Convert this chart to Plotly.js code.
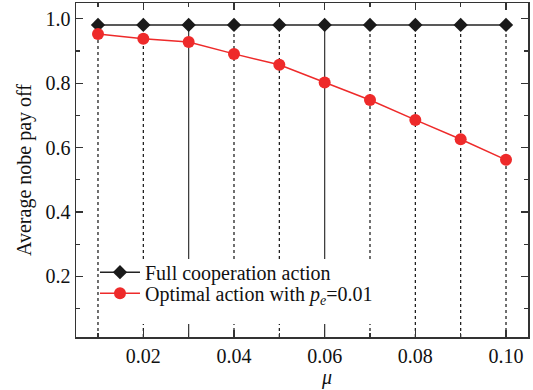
<!DOCTYPE html>
<html>
<head>
<meta charset="utf-8">
<script src="https://cdn.plot.ly/plotly-3.0.1.min.js"></script>
<style>html,body{margin:0;padding:0;background:#fff;}#chart{width:533px;height:390px;}</style>
</head>
<body>
<div id="chart"></div>
<script>
var mu = [0.01, 0.02, 0.03, 0.04, 0.05, 0.06, 0.07, 0.08, 0.09, 0.10];
var fullCoop = [0.981, 0.981, 0.981, 0.981, 0.981, 0.981, 0.981, 0.981, 0.981, 0.981];
var optimal = [0.953, 0.938, 0.928, 0.891, 0.857, 0.802, 0.748, 0.686, 0.626, 0.562];
var dropStyle = ['dot', 'dot', 'solid', 'dot', 'dot', 'solid', 'dot', 'dot', 'dot', 'dot'];
var xTickVals = [0.02, 0.04, 0.06, 0.08, 0.10];
var yTickVals = [0.2, 0.4, 0.6, 0.8, 1.0];
var xRange = [0.00515, 0.10485];
var yRange = [0.012, 1.049];

var FONT = "'Liberation Serif', 'Times New Roman', serif";

var shapes = mu.map(function (m, i) {
  return {
    type: 'line', xref: 'x', yref: 'y', layer: 'below',
    x0: m, x1: m, y0: yRange[0], y1: fullCoop[i],
    line: {color: dropStyle[i] === 'solid' ? '#333' : '#111', width: 1.2, dash: dropStyle[i]}
  };
});
// white background behind the legend block (same layer, drawn after the drop lines)
shapes.push({
  type: 'rect', xref: 'x', yref: 'y', layer: 'below',
  x0: 0.0104, x1: 0.0755, y0: 0.052, y1: 0.254,
  fillcolor: '#fff', line: {width: 0}
});

var traces = [
  {
    x: mu, y: fullCoop, mode: 'lines+markers', name: 'Full cooperation action',
    line: {color: '#222', width: 1.5},
    marker: {symbol: 'diamond', size: 11, color: '#1a1a1a'},
    legend: 'legend'
  },
  {
    x: mu, y: optimal, mode: 'lines+markers',
    name: 'Optimal action with <i>p<sub>e</sub></i>=0.01',
    line: {color: '#ee2a2a', width: 1.5},
    marker: {symbol: 'circle', size: 12, color: '#ee2a2a'},
    legend: 'legend2'
  }
];

var axisCommon = {
  showline: true, linecolor: '#333', linewidth: 1.5, mirror: 'allticks',
  ticks: 'inside', ticklen: 7, tickwidth: 1.2, tickcolor: '#333',
  showgrid: false, zeroline: false,
  tickfont: {family: FONT, size: 20, color: '#111'}
};

var legendCommon = {
  xanchor: 'left', yanchor: 'middle', bgcolor: 'rgba(0,0,0,0)', borderwidth: 0,
  font: {family: FONT, size: 20, color: '#111'}, itemwidth: 40
};

var layout = {
  width: 533, height: 390,
  margin: {l: 76, r: 5, t: 3, b: 53},
  paper_bgcolor: '#fff', plot_bgcolor: '#fff',
  font: {family: FONT, size: 20, color: '#111'},
  showlegend: true,
  legend: Object.assign({}, legendCommon, {x: 0.042, y: 0.194}),
  legend2: Object.assign({}, legendCommon, {x: 0.042, y: 0.131}),
  xaxis: Object.assign({}, axisCommon, {
    range: xRange, tickmode: 'array', tickvals: xTickVals, tickformat: '.2f',
    minor: {dtick: 0.01, tick0: 0, ticks: 'inside', ticklen: 4, tickwidth: 1.2, tickcolor: '#333'}
  }),
  yaxis: Object.assign({}, axisCommon, {
    range: yRange, tickmode: 'array', tickvals: yTickVals, tickformat: '.1f',
    minor: {dtick: 0.1, tick0: 0, ticks: 'inside', ticklen: 4, tickwidth: 1.2, tickcolor: '#333'},
    title: {text: 'Average nobe pay off', font: {family: FONT, size: 20, color: '#111'}, standoff: 8}
  }),
  shapes: shapes,
  annotations: [{
    xref: 'paper', yref: 'paper', x: 0.555, y: -0.12, xanchor: 'center', yanchor: 'middle',
    text: '<i>μ</i>', showarrow: false, font: {family: FONT, size: 20, color: '#111'}
  }]
};

Plotly.newPlot('chart', traces, layout, {displayModeBar: false, staticPlot: true});
</script>
</body>
</html>
